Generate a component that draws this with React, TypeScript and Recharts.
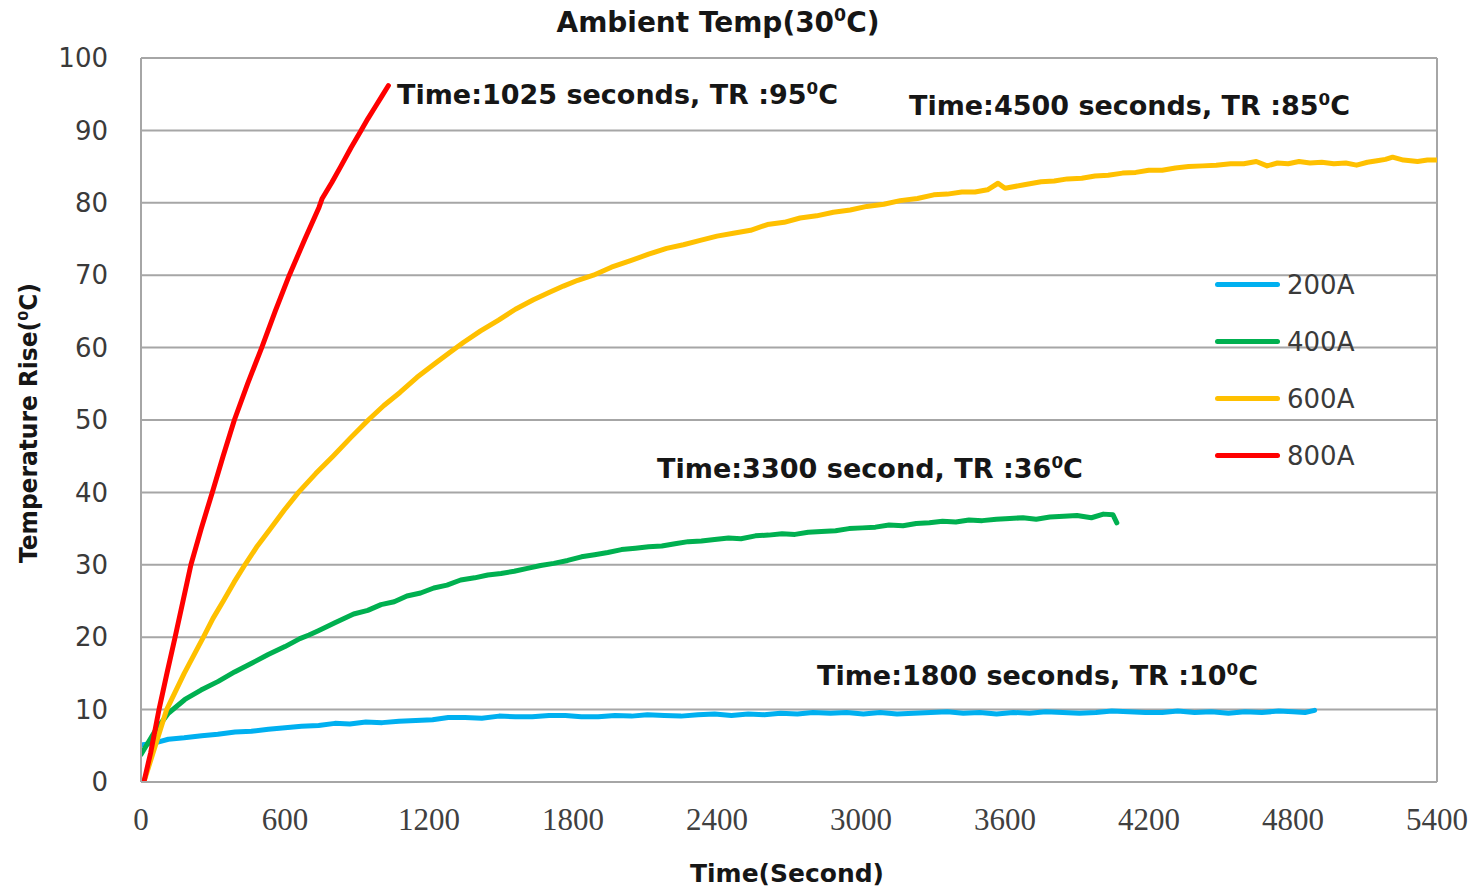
import React from 'react';
import {
  LineChart,
  Line,
  XAxis,
  YAxis,
  CartesianGrid,
  ReferenceDot,
  ReferenceLine,
  Legend,
} from 'recharts';

// ---------- data (time in seconds, temperature rise in °C) ----------
const xTicks = [0, 600, 1200, 1800, 2400, 3000, 3600, 4200, 4800, 5400];
const yTicks = [0, 10, 20, 30, 40, 50, 60, 70, 80, 90, 100];

const seriesNames = ['200A', '400A', '600A', '800A'];
const seriesColors = ['#00B0F0', '#00B050', '#FFC000', '#FF0000'];

const blue200 = [
  { t: 0, v: 5.1 }, { t: 58, v: 5.4 }, { t: 114, v: 5.9 }, { t: 180, v: 6.1 },
  { t: 253, v: 6.4 }, { t: 320, v: 6.6 }, { t: 392, v: 6.9 }, { t: 460, v: 7.0 },
  { t: 531, v: 7.3 }, { t: 600, v: 7.5 }, { t: 669, v: 7.7 }, { t: 740, v: 7.8 },
  { t: 808, v: 8.1 }, { t: 870, v: 8.0 }, { t: 937, v: 8.3 }, { t: 1005, v: 8.2 },
  { t: 1075, v: 8.4 }, { t: 1145, v: 8.5 }, { t: 1215, v: 8.6 }, { t: 1280, v: 8.9 },
  { t: 1350, v: 8.9 }, { t: 1420, v: 8.8 }, { t: 1492, v: 9.1 }, { t: 1560, v: 9.0 },
  { t: 1630, v: 9.0 }, { t: 1700, v: 9.2 }, { t: 1768, v: 9.2 }, { t: 1835, v: 9.0 },
  { t: 1905, v: 9.0 }, { t: 1975, v: 9.2 }, { t: 2044, v: 9.1 }, { t: 2110, v: 9.3 },
  { t: 2180, v: 9.2 }, { t: 2250, v: 9.1 }, { t: 2321, v: 9.3 }, { t: 2390, v: 9.4 },
  { t: 2460, v: 9.2 }, { t: 2530, v: 9.4 }, { t: 2597, v: 9.3 }, { t: 2665, v: 9.5 },
  { t: 2735, v: 9.4 }, { t: 2800, v: 9.6 }, { t: 2873, v: 9.5 }, { t: 2940, v: 9.6 },
  { t: 3010, v: 9.4 }, { t: 3080, v: 9.6 }, { t: 3150, v: 9.4 }, { t: 3220, v: 9.5 },
  { t: 3290, v: 9.6 }, { t: 3360, v: 9.7 }, { t: 3426, v: 9.5 }, { t: 3495, v: 9.6 },
  { t: 3565, v: 9.4 }, { t: 3635, v: 9.6 }, { t: 3702, v: 9.5 }, { t: 3770, v: 9.7 },
  { t: 3840, v: 9.6 }, { t: 3910, v: 9.5 }, { t: 3979, v: 9.6 }, { t: 4045, v: 9.8 },
  { t: 4115, v: 9.7 }, { t: 4185, v: 9.6 }, { t: 4255, v: 9.6 }, { t: 4320, v: 9.8 },
  { t: 4390, v: 9.6 }, { t: 4460, v: 9.7 }, { t: 4531, v: 9.5 }, { t: 4600, v: 9.7 },
  { t: 4670, v: 9.6 }, { t: 4740, v: 9.8 }, { t: 4800, v: 9.7 }, { t: 4850, v: 9.6 },
  { t: 4890, v: 9.9 },
];

const green400 = [
  { t: 0, v: 3.8 }, { t: 58, v: 7.0 }, { t: 114, v: 9.5 }, { t: 183, v: 11.4 },
  { t: 250, v: 12.7 }, { t: 322, v: 13.9 }, { t: 390, v: 15.2 }, { t: 461, v: 16.4 },
  { t: 530, v: 17.6 }, { t: 600, v: 18.7 }, { t: 662, v: 19.8 }, { t: 700, v: 20.3 },
  { t: 739, v: 20.9 }, { t: 808, v: 22.0 }, { t: 886, v: 23.2 }, { t: 945, v: 23.7 },
  { t: 1000, v: 24.5 }, { t: 1055, v: 24.9 }, { t: 1108, v: 25.7 }, { t: 1165, v: 26.1 },
  { t: 1220, v: 26.8 }, { t: 1275, v: 27.2 }, { t: 1332, v: 27.9 }, { t: 1390, v: 28.2 },
  { t: 1445, v: 28.6 }, { t: 1500, v: 28.8 }, { t: 1555, v: 29.1 }, { t: 1610, v: 29.5 },
  { t: 1665, v: 29.9 }, { t: 1720, v: 30.2 }, { t: 1778, v: 30.6 }, { t: 1835, v: 31.1 },
  { t: 1890, v: 31.4 }, { t: 1945, v: 31.7 }, { t: 2002, v: 32.1 }, { t: 2060, v: 32.3 },
  { t: 2115, v: 32.5 }, { t: 2170, v: 32.6 }, { t: 2225, v: 32.9 }, { t: 2280, v: 33.2 },
  { t: 2335, v: 33.3 }, { t: 2390, v: 33.5 }, { t: 2448, v: 33.7 }, { t: 2500, v: 33.6 },
  { t: 2560, v: 34.0 }, { t: 2615, v: 34.1 }, { t: 2671, v: 34.3 }, { t: 2725, v: 34.2 },
  { t: 2780, v: 34.5 }, { t: 2835, v: 34.6 }, { t: 2894, v: 34.7 }, { t: 2950, v: 35.0 },
  { t: 3005, v: 35.1 }, { t: 3060, v: 35.2 }, { t: 3117, v: 35.5 }, { t: 3175, v: 35.4 },
  { t: 3230, v: 35.7 }, { t: 3285, v: 35.8 }, { t: 3340, v: 36.0 }, { t: 3395, v: 35.9 },
  { t: 3450, v: 36.2 }, { t: 3505, v: 36.1 }, { t: 3564, v: 36.3 }, { t: 3620, v: 36.4 },
  { t: 3675, v: 36.5 }, { t: 3730, v: 36.3 }, { t: 3787, v: 36.6 }, { t: 3845, v: 36.7 },
  { t: 3900, v: 36.8 }, { t: 3960, v: 36.5 }, { t: 4010, v: 37.0 }, { t: 4050, v: 36.9 },
  { t: 4066, v: 35.8 },
];

const yellow600 = [
  { t: 12, v: 0 }, { t: 50, v: 4 }, { t: 107, v: 10 }, { t: 180, v: 15 },
  { t: 260, v: 20 }, { t: 300, v: 22.6 }, { t: 343, v: 25 }, { t: 388, v: 27.6 },
  { t: 433, v: 30 }, { t: 485, v: 32.6 }, { t: 540, v: 35 }, { t: 598, v: 37.6 },
  { t: 656, v: 40 }, { t: 728, v: 42.6 }, { t: 800, v: 45 }, { t: 875, v: 47.6 },
  { t: 947, v: 50 }, { t: 1012, v: 52.0 }, { t: 1079, v: 53.8 }, { t: 1150, v: 55.9 },
  { t: 1225, v: 57.8 }, { t: 1285, v: 59.3 }, { t: 1343, v: 60.7 }, { t: 1415, v: 62.3 },
  { t: 1490, v: 63.8 }, { t: 1560, v: 65.3 }, { t: 1635, v: 66.6 }, { t: 1700, v: 67.6 },
  { t: 1760, v: 68.5 }, { t: 1820, v: 69.3 }, { t: 1885, v: 70.0 }, { t: 1960, v: 71.1 },
  { t: 2040, v: 72.0 }, { t: 2115, v: 72.9 }, { t: 2190, v: 73.7 }, { t: 2260, v: 74.2 },
  { t: 2330, v: 74.8 }, { t: 2400, v: 75.4 }, { t: 2468, v: 75.8 }, { t: 2540, v: 76.2 },
  { t: 2610, v: 77.0 }, { t: 2680, v: 77.3 }, { t: 2746, v: 77.9 }, { t: 2815, v: 78.2 },
  { t: 2885, v: 78.7 }, { t: 2955, v: 79.0 }, { t: 3024, v: 79.5 }, { t: 3095, v: 79.8 },
  { t: 3163, v: 80.3 }, { t: 3235, v: 80.6 }, { t: 3303, v: 81.1 }, { t: 3360, v: 81.2 },
  { t: 3420, v: 81.5 }, { t: 3475, v: 81.5 }, { t: 3527, v: 81.8 }, { t: 3571, v: 82.7 },
  { t: 3600, v: 82.0 }, { t: 3680, v: 82.5 }, { t: 3750, v: 82.9 }, { t: 3805, v: 83.0 },
  { t: 3860, v: 83.3 }, { t: 3920, v: 83.4 }, { t: 3975, v: 83.7 }, { t: 4030, v: 83.8 },
  { t: 4090, v: 84.1 }, { t: 4145, v: 84.2 }, { t: 4199, v: 84.5 }, { t: 4255, v: 84.5 },
  { t: 4310, v: 84.8 }, { t: 4365, v: 85.0 }, { t: 4423, v: 85.1 }, { t: 4480, v: 85.2 },
  { t: 4540, v: 85.4 }, { t: 4595, v: 85.4 }, { t: 4647, v: 85.7 }, { t: 4692, v: 85.1 },
  { t: 4735, v: 85.5 }, { t: 4780, v: 85.4 }, { t: 4825, v: 85.7 }, { t: 4871, v: 85.5 },
  { t: 4920, v: 85.6 }, { t: 4970, v: 85.4 }, { t: 5020, v: 85.5 }, { t: 5065, v: 85.2 },
  { t: 5110, v: 85.6 }, { t: 5150, v: 85.8 }, { t: 5185, v: 86.0 }, { t: 5215, v: 86.3 },
  { t: 5260, v: 85.9 }, { t: 5290, v: 85.8 }, { t: 5319, v: 85.7 }, { t: 5360, v: 85.9 },
  { t: 5400, v: 85.9 },
];

const red800 = [
  { t: 12, v: 0 }, { t: 40, v: 4 }, { t: 75, v: 10 }, { t: 108, v: 15 },
  { t: 142, v: 20 }, { t: 175, v: 25 }, { t: 208, v: 30 }, { t: 251, v: 35 },
  { t: 297, v: 40 }, { t: 342, v: 45 }, { t: 389, v: 50 }, { t: 444, v: 55 },
  { t: 503, v: 60 }, { t: 559, v: 65 }, { t: 618, v: 70 }, { t: 683, v: 75 },
  { t: 742, v: 79.4 }, { t: 755, v: 80.6 }, { t: 795, v: 82.8 }, { t: 832, v: 85 },
  { t: 875, v: 87.6 }, { t: 917, v: 90 }, { t: 945, v: 91.6 }, { t: 975, v: 93.2 },
  { t: 1005, v: 94.8 }, { t: 1031, v: 96.2 },
];

const annotations = [
  { t: 1067, v: 95.0, text: 'Time:1025 seconds, TR :95', width: 441 },
  { t: 3200, v: 93.5, text: 'Time:4500 seconds, TR :85', width: 441 },
  { t: 2150, v: 43.4, text: 'Time:3300 second, TR :36', width: 426 },
  { t: 2817, v: 14.8, text: 'Time:1800 seconds, TR :10', width: 441 },
];

const seriesData = [blue200, green400, yellow600, red800];

// ---------- styles ----------
const W = 1476;
const H = 890;
const GRID = '#a6a6a6';
const SANS = "'DejaVu Sans', Verdana, sans-serif";
const SERIF = "'Liberation Serif', 'DejaVu Serif', serif";
const TEXT_DARK = '#161616';

const DegreeText = ({ x, y, pre, post, size, width, anchor, rotate }: any) => (
  <text
    x={x}
    y={y}
    fontFamily={SANS}
    fontWeight="bold"
    fontSize={size}
    fill={TEXT_DARK}
    textAnchor={anchor || 'start'}
    textLength={width}
    lengthAdjust="spacingAndGlyphs"
    transform={rotate ? `rotate(-90, ${x}, ${y})` : undefined}
  >
    {pre}
    <tspan fontSize={size * 0.62} dy={-size * 0.38}>0</tspan>
    <tspan dy={size * 0.38}>{post}</tspan>
  </text>
);

const makeAnnotation = (text: string, width: number) => (props: any) => {
  const vb = props.viewBox || {};
  const cx = (vb.x || 0) + (vb.width || 0) / 2;
  const cy = (vb.y || 0) + (vb.height || 0) / 2;
  return <DegreeText x={cx} y={cy + 10} pre={text} post="C" size={26} width={width} />;
};

const renderXLabel = (props: any) => {
  const vb = props.viewBox || {};
  const cx = vb.x + vb.width / 2;
  return (
    <text
      x={cx - 2}
      y={vb.y + 100}
      textAnchor="middle"
      fontFamily={SANS}
      fontWeight="bold"
      fontSize={25}
      fill={TEXT_DARK}
      textLength={194}
      lengthAdjust="spacingAndGlyphs"
    >
      Time(Second)
    </text>
  );
};

const renderYLabel = (props: any) => {
  const vb = props.viewBox || {};
  const cy = vb.y + vb.height / 2;
  return (
    <DegreeText x={37} y={cy + 3} pre="Temperature Rise(" post="C)" size={24} width={280} anchor="middle" rotate />
  );
};

const renderLegend = (props: any) => {
  const payload = props.payload || [];
  return (
    <div>
      {payload.map((p: any) => (
        <div
          key={p.value}
          style={{ height: 57, display: 'flex', alignItems: 'center' }}
        >
          <span
            style={{
              display: 'inline-block',
              width: 65,
              height: 5,
              borderRadius: 3,
              background: p.color,
              marginRight: 7,
            }}
          />
          <span style={{ fontFamily: SANS, fontSize: 26, color: '#3a3a3a', lineHeight: '30px' }}>
            {p.value}
          </span>
        </div>
      ))}
    </div>
  );
};

export default function App() {
  return (
    <div style={{ position: 'absolute', left: 0, top: 0, width: W, height: H, background: '#ffffff' }}>
      <LineChart width={W} height={H} margin={{ top: 58, right: 39, bottom: 68, left: 0 }}>
        <CartesianGrid vertical={false} stroke={GRID} strokeWidth={2} />
        <XAxis
          type="number"
          dataKey="t"
          domain={[0, 5400]}
          ticks={xTicks}
          interval={0}
          allowDataOverflow
          height={40}
          tickSize={0}
          tickMargin={26}
          tickLine={false}
          axisLine={{ stroke: GRID, strokeWidth: 2 }}
          tick={{ fontFamily: SERIF, fontSize: 31, fill: '#404040' }}
          label={renderXLabel}
        />
        <YAxis
          type="number"
          domain={[0, 100]}
          ticks={yTicks}
          interval={0}
          allowDataOverflow
          width={141}
          tickSize={0}
          tickMargin={33}
          tickLine={false}
          axisLine={{ stroke: GRID, strokeWidth: 2 }}
          tick={{ fontFamily: SANS, fontSize: 26, fill: '#3a3a3a' }}
          label={renderYLabel}
        />
        <ReferenceLine x={5400} stroke={GRID} strokeWidth={2} />
        {seriesData.map((d, i) => (
          <Line
            key={seriesNames[i]}
            data={d}
            dataKey="v"
            name={seriesNames[i]}
            type="linear"
            stroke={seriesColors[i]}
            strokeWidth={5}
            strokeLinejoin="round"
            strokeLinecap="round"
            dot={false}
            activeDot={false}
            isAnimationActive={false}
          />
        ))}
        {annotations.map((a) => (
          <ReferenceDot
            key={a.text}
            x={a.t}
            y={a.v}
            r={1}
            fill="none"
            stroke="none"
            ifOverflow="visible"
            label={makeAnnotation(a.text, a.width)}
          />
        ))}
        <Legend
          layout="horizontal"
          verticalAlign="middle"
          align="center"
          content={renderLegend}
          wrapperStyle={{ left: 1215, top: 256, width: 200, height: 228 }}
        />
      </LineChart>
      <svg
        width={W}
        height={50}
        style={{ position: 'absolute', left: 0, top: 0, pointerEvents: 'none' }}
      >
        <DegreeText x={718} y={32} pre="Ambient Temp(30" post="C)" size={28} width={323} anchor="middle" />
      </svg>
    </div>
  );
}
